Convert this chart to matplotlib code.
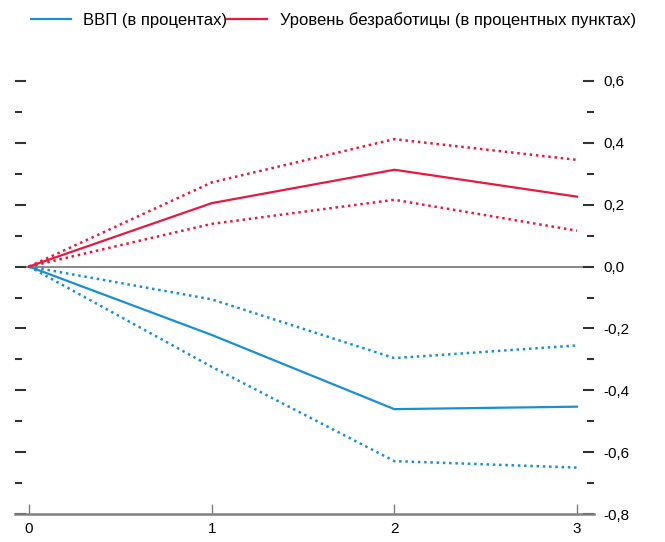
import numpy as np
import matplotlib.pyplot as plt
from matplotlib.ticker import MultipleLocator, FuncFormatter

plt.rcParams['font.family'] = ['Liberation Sans', 'DejaVu Sans']

# годы после шока
years = [0, 1, 2, 3]

# ВВП (в процентах)
gdp = [0.0, -0.221, -0.461, -0.453]
gdp_hi = [0.0, -0.106, -0.296, -0.255]
gdp_lo = [0.0, -0.324, -0.629, -0.650]

# Уровень безработицы (в процентных пунктах)
unemp = [0.0, 0.205, 0.313, 0.226]
unemp_hi = [0.0, 0.272, 0.412, 0.345]
unemp_lo = [0.0, 0.138, 0.216, 0.116]

blue = '#1a8fd3'
red = '#e8193f'
grey = '#808080'
dots = (0, (1, 1.5))

fig = plt.figure(figsize=(6.65, 5.42), dpi=100)
ax = fig.add_axes([15 / 665, 1 - 514 / 542, (594 - 15) / 665, (514 - 81) / 542])

ax.plot(years, gdp, color=blue, lw=1.6, label='ВВП (в процентах)')
ax.plot(years, gdp_hi, color=blue, lw=1.8, ls=dots)
ax.plot(years, gdp_lo, color=blue, lw=1.8, ls=dots)
ax.plot(years, unemp, color=red, lw=1.6, label='Уровень безработицы (в процентных пунктах)')
ax.plot(years, unemp_hi, color=red, lw=1.8, ls=dots)
ax.plot(years, unemp_lo, color=red, lw=1.8, ls=dots)

ax.axhline(0, color=grey, lw=1.3, zorder=1)

ax.set_xlim(-14 / 182.7, 3 + 17 / 182.7)
ax.set_ylim(-0.8, 0.6)

for side in ['top', 'left', 'right']:
    ax.spines[side].set_visible(False)
ax.spines['bottom'].set_color(grey)
ax.spines['bottom'].set_linewidth(1.8)

ax.set_xticks(years)
ax.tick_params(axis='x', direction='in', length=7, width=1, color=grey,
               labelsize=11, pad=6)

ax.yaxis.set_major_locator(MultipleLocator(0.2))
ax.yaxis.set_minor_locator(MultipleLocator(0.1))
ax.yaxis.set_major_formatter(FuncFormatter(lambda v, p: f'{v:.1f}'.replace('.', ',').replace('-0,0', '0,0')))
ax.tick_params(axis='y', which='both', direction='in', left=True, right=True,
               labelleft=False, labelright=True, color='#333333', width=1.5,
               labelsize=11, pad=7)
ax.tick_params(axis='y', which='major', length=8)
ax.tick_params(axis='y', which='minor', length=5)
for t in ax.yaxis.get_ticklines() + ax.yaxis.get_minorticklines():
    t.set_clip_on(False)

fig.legend(loc='upper left', bbox_to_anchor=(19 / 665, 1.0), ncol=2, frameon=False,
           fontsize=12, handlelength=2.4, handletextpad=0.75, columnspacing=0.0,
           borderaxespad=0.3)

fig.savefig('out.png', dpi=100)
